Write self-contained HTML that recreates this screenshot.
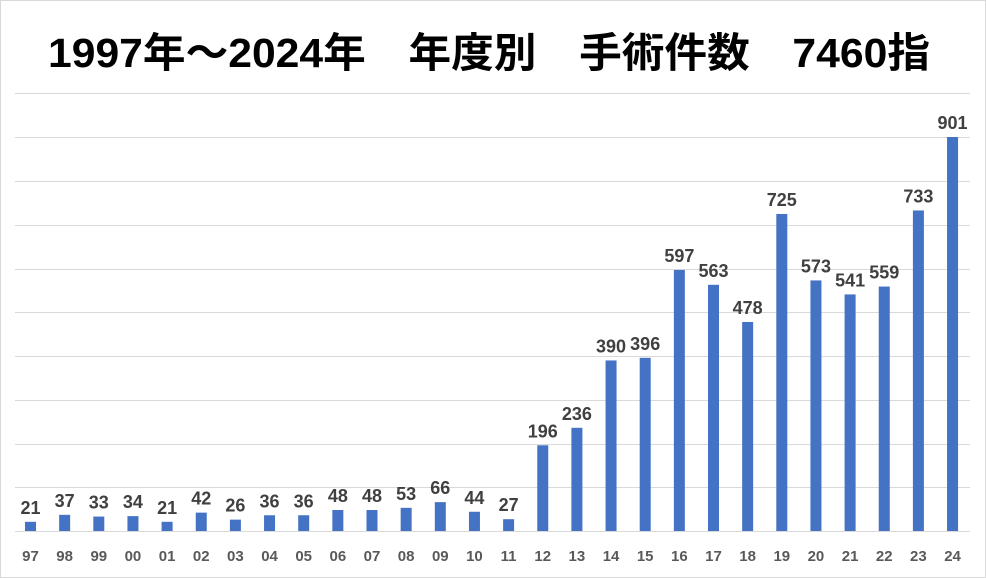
<!DOCTYPE html>
<html><head><meta charset="utf-8"><style>
html,body{margin:0;padding:0;background:#fff;}
svg{display:block;}
</style></head><body>
<svg width="986" height="578" xmlns="http://www.w3.org/2000/svg">
<rect x="0.5" y="0.5" width="985" height="577" fill="#fff" stroke="#d9d9d9"/>
<text x="48" y="67" textLength="882" lengthAdjust="spacingAndGlyphs" font-family="'Liberation Sans','Noto Sans CJK JP',sans-serif" font-weight="bold" font-size="41" fill="#000" xml:space="preserve">1997年～2024年　年度別　手術件数　7460指</text>
<g stroke="#d9d9d9" stroke-width="1">
<line x1="15" x2="970" y1="93.5" y2="93.5"/><line x1="15" x2="970" y1="137.5" y2="137.5"/><line x1="15" x2="970" y1="181.5" y2="181.5"/><line x1="15" x2="970" y1="225.5" y2="225.5"/><line x1="15" x2="970" y1="269.5" y2="269.5"/><line x1="15" x2="970" y1="312.5" y2="312.5"/><line x1="15" x2="970" y1="356.5" y2="356.5"/><line x1="15" x2="970" y1="400.5" y2="400.5"/><line x1="15" x2="970" y1="444.5" y2="444.5"/><line x1="15" x2="970" y1="487.5" y2="487.5"/><line x1="15" x2="970" y1="531.5" y2="531.5"/>
</g>
<g id="bars"></g>
</svg>
<script>
var v=[21,37,33,34,21,42,26,36,36,48,48,53,66,44,27,196,236,390,396,597,563,478,725,573,541,559,733,901];
var y=["97","98","99","00","01","02","03","04","05","06","07","08","09","10","11","12","13","14","15","16","17","18","19","20","21","22","23","24"];
var g=document.getElementById("bars"),s="";
for(var i=0;i<28;i++){var cx=30.5+i*34.15,h=v[i]*0.4373,t=531-h;
s+='<rect x="'+(cx-5.5)+'" y="'+t+'" width="11" height="'+h+'" fill="#4472c4"/>';
s+='<text x="'+cx+'" y="'+(t-8)+'" text-anchor="middle" font-family="Liberation Sans,sans-serif" font-weight="bold" font-size="18" fill="#404040">'+v[i]+'</text>';
s+='<text x="'+cx+'" y="561" text-anchor="middle" font-family="Liberation Sans,sans-serif" font-weight="bold" font-size="15" fill="#595959">'+y[i]+'</text>';}
g.innerHTML=s;
</script>
</body></html>
